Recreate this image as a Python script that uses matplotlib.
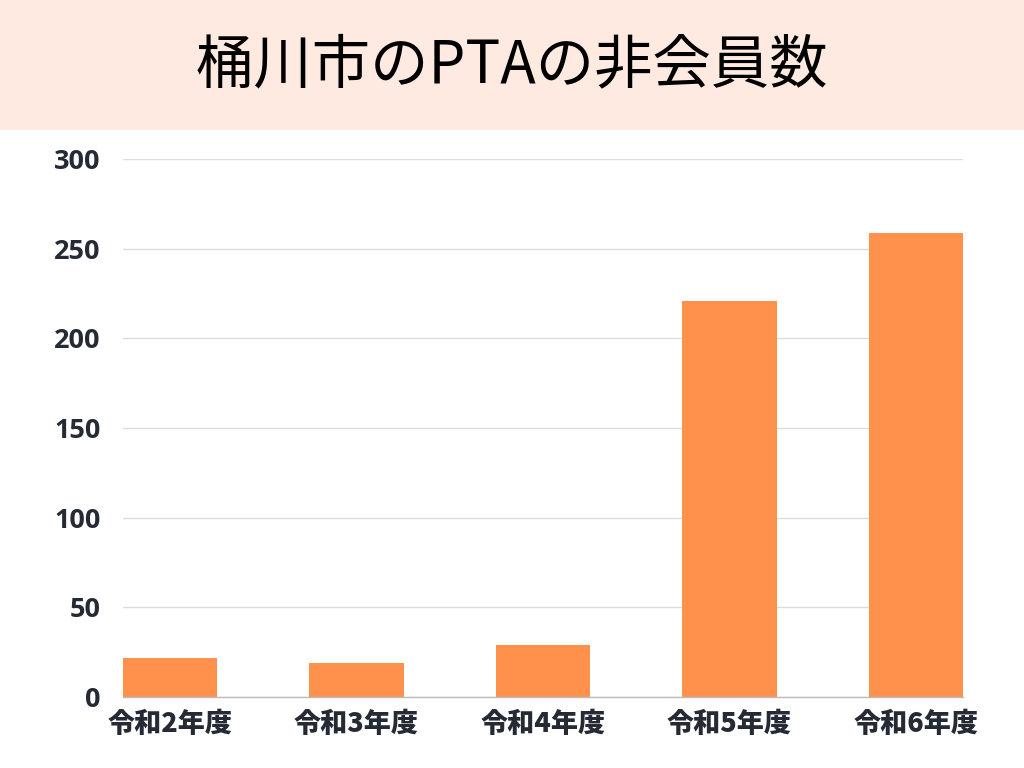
import matplotlib
matplotlib.use("Agg")
from matplotlib import pyplot as plt
from matplotlib.patches import Rectangle

plt.rcParams['font.family'] = ['Noto Sans CJK JP', 'DejaVu Sans']

# data
years = ['令和2年度', '令和3年度', '令和4年度', '令和5年度', '令和6年度']
non_members = [22, 19, 29, 221, 259]
y_ticks = [0, 50, 100, 150, 200, 250, 300]
title = '桶川市のPTAの非会員数'

bar_color = '#FF914D'
text_color = '#252A34'

fig = plt.figure(figsize=(10.24, 7.68), dpi=100)
fig.patch.set_facecolor('white')

# peach title band on top
fig.patches.append(Rectangle((0, 1 - 130 / 768), 1, 130 / 768, transform=fig.transFigure,
                             facecolor='#FEEAE0', edgecolor='none', zorder=0))
fig.text(0.5, 1 - 66 / 768, title, ha='center', va='center', fontsize=42,
         color='black', fontweight='normal')

ax = fig.add_axes([123 / 1024, 1 - 697 / 768, 840 / 1024, 538 / 768])
x = range(len(years))
ax.bar(x, non_members, width=0.505, color=bar_color, zorder=3)

ax.set_xlim(-0.2525, len(years) - 1 + 0.2525)
ax.set_ylim(0, 300)
ax.set_yticks(y_ticks)
ax.set_xticks(list(x))
ax.set_xticklabels(years, fontsize=19.5, fontweight='heavy', color=text_color)
ax.set_yticklabels([str(t) for t in y_ticks], fontsize=19.5, fontweight='bold',
                   color=text_color, family=['Open Sans', 'DejaVu Sans'])

ax.tick_params(axis='both', length=0)
ax.tick_params(axis='y', pad=16)
ax.tick_params(axis='x', pad=9)

ax.grid(axis='y', color='#DDDDDD', linewidth=1, zorder=0)
ax.set_axisbelow(True)
for side in ['top', 'right', 'left']:
    ax.spines[side].set_visible(False)
ax.spines['bottom'].set_color('#BBBBBB')
ax.spines['bottom'].set_linewidth(1)
ax.spines['bottom'].set_zorder(4)

fig.savefig('out.png', dpi=100)
